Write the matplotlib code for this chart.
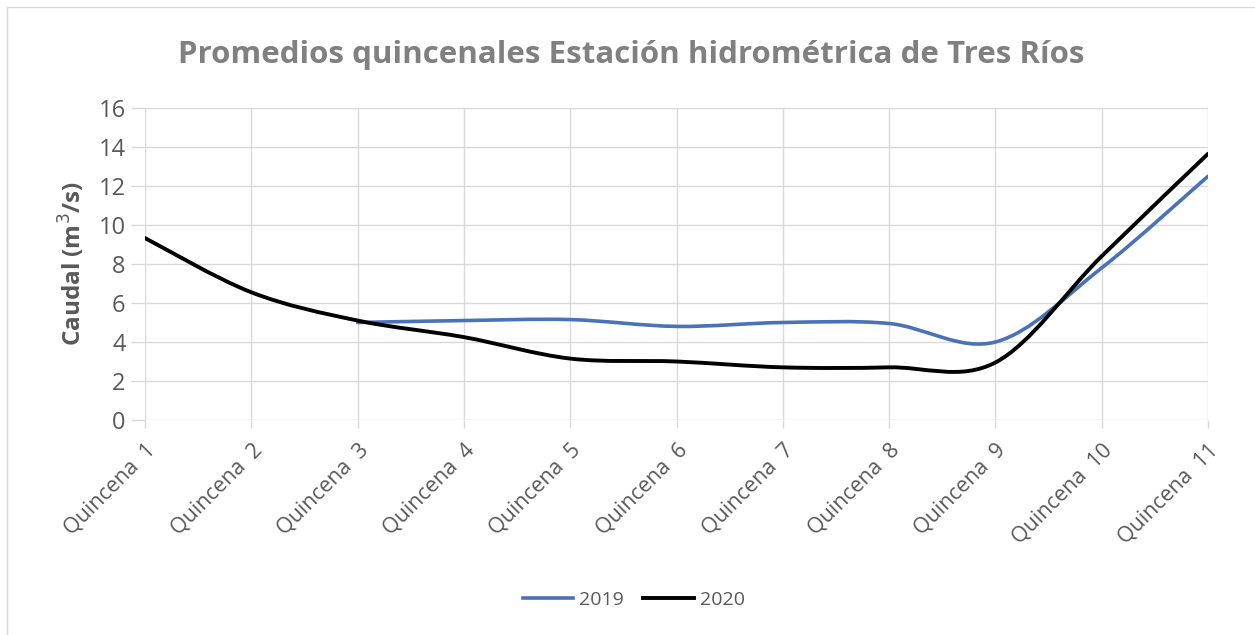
import matplotlib
matplotlib.use("Agg")
import matplotlib.pyplot as plt
from matplotlib.path import Path
from matplotlib.patches import PathPatch, Rectangle
from matplotlib.lines import Line2D

plt.rcParams["font.family"] = ["Open Sans", "DejaVu Sans"]

categories = ["Quincena  1", "Quincena  2", "Quincena  3", "Quincena  4", "Quincena  5",
              "Quincena  6", "Quincena  7", "Quincena  8", "Quincena  9", "Quincena  10",
              "Quincena  11"]
# 2019 starts at Quincena 3
caudal_2019 = [None, None, 5.0, 5.1, 5.15, 4.8, 5.0, 4.95, 4.0, 7.8, 12.5]
caudal_2020 = [9.33, 6.55, 5.1, 4.25, 3.15, 3.0, 2.7, 2.7, 2.95, 8.4, 13.65]

color_2019 = "#4a72b8"
color_2020 = "#000000"
text_grey = "#595959"
grid_grey = "#d9d9d9"


def smooth_path(xs, ys):
    # Excel-like smoothed line: cubic Bezier through the points (Catmull-Rom style)
    pts = [(x, y) for x, y in zip(xs, ys) if y is not None]
    verts = [pts[0]]
    codes = [Path.MOVETO]
    n = len(pts)
    for i in range(n - 1):
        p0 = pts[i - 1] if i > 0 else pts[i]
        p1 = pts[i]
        p2 = pts[i + 1]
        p3 = pts[i + 2] if i + 2 < n else pts[i + 1]
        c1 = (p1[0] + (p2[0] - p0[0]) / 6, p1[1] + (p2[1] - p0[1]) / 6)
        c2 = (p2[0] - (p3[0] - p1[0]) / 6, p2[1] - (p3[1] - p1[1]) / 6)
        verts += [c1, c2, p2]
        codes += [Path.CURVE4] * 3
    return Path(verts, codes)


fig = plt.figure(figsize=(12.55, 6.35), dpi=100)
ax = fig.add_axes([145 / 1255, 1 - 420 / 635, (1208 - 145) / 1255, (420 - 108) / 635])

x = list(range(len(categories)))
for vals, col, lw in [(caudal_2019, color_2019, 2.6), (caudal_2020, color_2020, 2.8)]:
    patch = PathPatch(smooth_path(x, vals), facecolor="none", edgecolor=col,
                      linewidth=lw, capstyle="round", joinstyle="round", zorder=3)
    ax.add_patch(patch)

ax.set_xlim(0, len(categories) - 1)
ax.set_ylim(0, 16)
ax.set_yticks(range(0, 17, 2))
ax.set_xticks(x)
ax.set_xticklabels(categories, rotation=45, ha="right", rotation_mode="anchor",
                   fontsize=15.5, color=text_grey)
ax.tick_params(axis="y", labelsize=17, labelcolor=text_grey, color=grid_grey,
               length=10, width=1, pad=4)
ax.tick_params(axis="x", color=grid_grey, length=6, width=1, pad=8)
ax.grid(True, color=grid_grey, linewidth=1)
ax.set_axisbelow(True)
for s in ax.spines.values():
    s.set_visible(False)

ax.set_ylabel("Caudal (m$^3$/s)", fontsize=17.5, fontweight="bold", color=text_grey,
              labelpad=8)

fig.text(0.503, 0.913, "Promedios quincenales Estación hidrométrica de Tres Ríos",
         ha="center", va="center", fontsize=22.5, fontweight="bold", color="#808080")

handles = [Line2D([], [], color=color_2019, lw=2.6),
           Line2D([], [], color=color_2020, lw=2.8)]
fig.legend(handles, ["2019", "2020"], loc="center", bbox_to_anchor=(0.505, 0.055),
           ncol=2, frameon=False, fontsize=14, labelcolor=text_grey,
           handlelength=2.6, handletextpad=0.3, columnspacing=1.0)

fig.add_artist(Rectangle((7 / 1255, -0.1), 1.2, 1 - 7 / 635 + 0.1,
                         transform=fig.transFigure, facecolor="none",
                         edgecolor=grid_grey, linewidth=1))

fig.savefig("out.png", dpi=100)
